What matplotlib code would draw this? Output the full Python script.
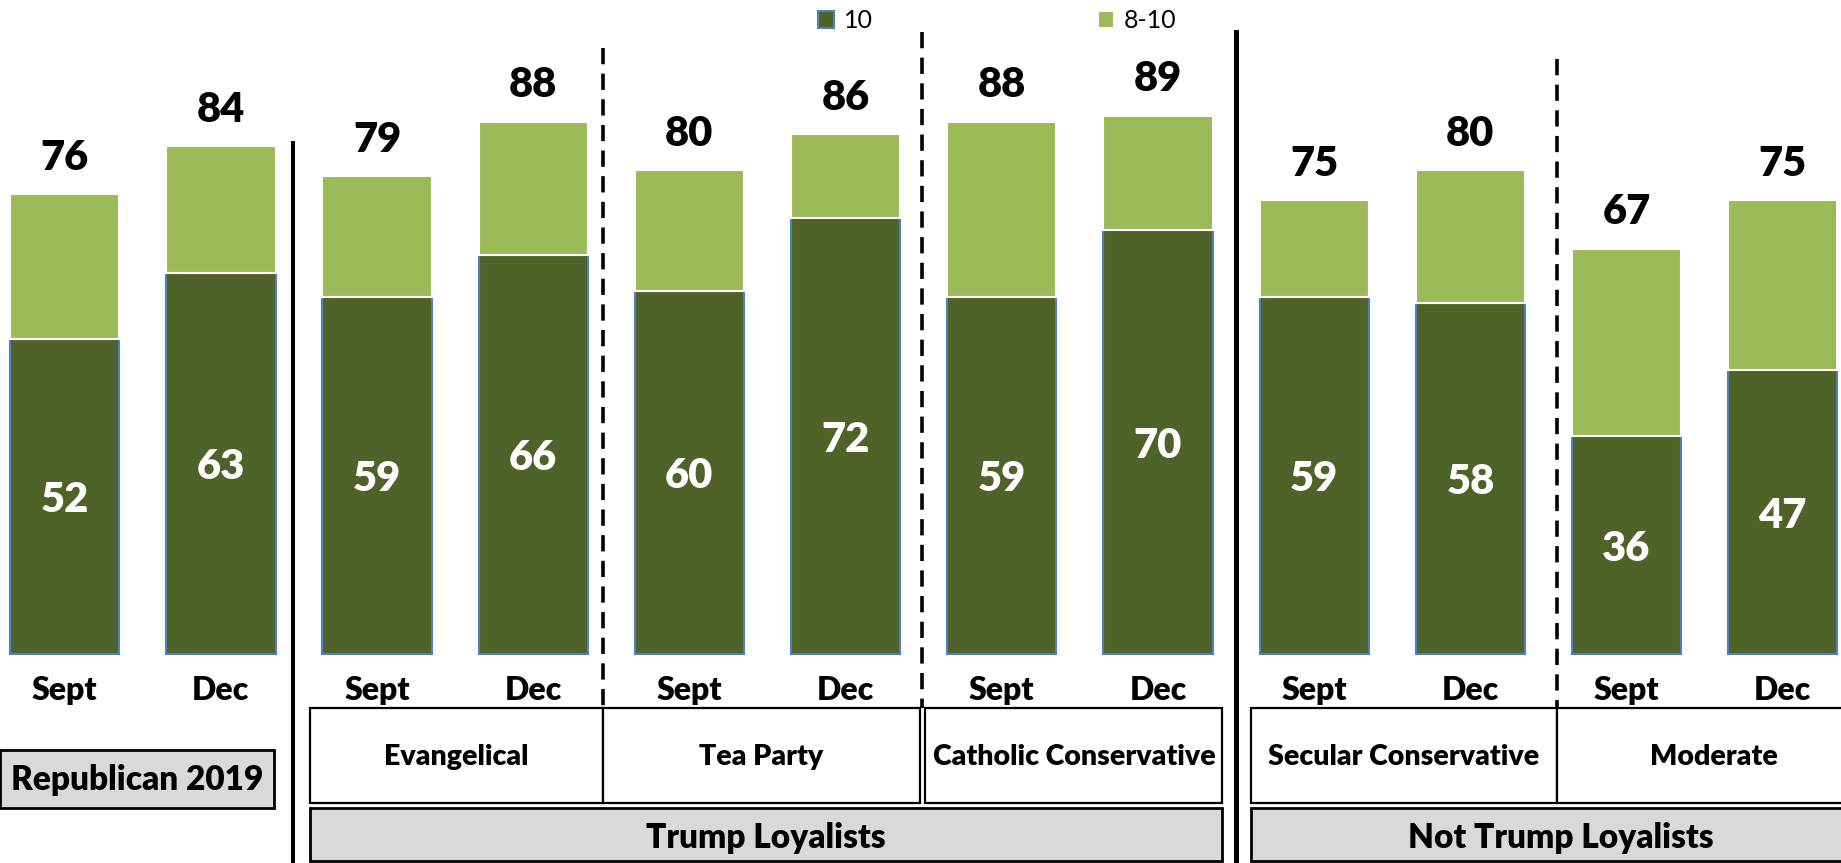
import matplotlib
matplotlib.use('Agg')
import matplotlib.pyplot as plt
from matplotlib.patches import Rectangle
import numpy as np

plt.rcParams['font.family'] = ['Lato', 'DejaVu Sans']

# data
months = ['Sept', 'Dec'] * 6
share_10 = [52, 63, 59, 66, 60, 72, 59, 70, 59, 58, 36, 47]
share_8_10 = [76, 84, 79, 88, 80, 86, 88, 89, 75, 80, 67, 75]
subgroups = ['Evangelical', 'Tea Party', 'Catholic Conservative',
             'Secular Conservative', 'Moderate']
blocs = ['Republican 2019', 'Trump Loyalists', 'Not Trump Loyalists']

DARK = '#4F6228'
LIGHT = '#9BBB59'
EDGE = '#4F81BD'
GREY = '#D9D9D9'
W = 'heavy'

fig = plt.figure(figsize=(18.41, 8.63), dpi=100)
ax = fig.add_axes([0, 0, 1, 1])
ax.set_xlim(-0.414, 11.373)
ax.set_ylim(-34.55, 108.1)
ax.axis('off')

x = np.arange(len(share_10))
ten = np.array(share_10)
total = np.array(share_8_10)

ax.bar(x, ten, width=0.7, color=DARK, edgecolor=EDGE, linewidth=1.5, label='10')
ax.bar(x, total - ten, bottom=ten, width=0.7, color=LIGHT, edgecolor='white',
       linewidth=1.5, label='8-10')

for xi, v10, vt, m in zip(x, ten, total, months):
    ax.text(xi, vt + 4.0, str(vt), ha='center', va='baseline', fontsize=30,
            fontweight=W, color='black')
    ax.text(xi, v10 / 2 - 2.6, str(v10), ha='center', va='baseline', fontsize=30,
            fontweight=W, color='white')
    ax.text(xi, -7.6, m, ha='center', va='baseline', fontsize=23, fontweight=W)

# separators between groups: x, top, bottom, style, width
seps = [(1.463, 84.4, -35, '-', 2.9),
        (3.448, 100.1, -8.9, (0, (4.5, 2.6)), 2.6),
        (5.49, 102.8, -8.9, (0, (4.5, 2.6)), 2.6),
        (7.5, 102.8, -35, '-', 3.6),
        (9.555, 98.3, -8.9, (0, (4.5, 2.6)), 2.6)]
for sx, y0, y1, ls, lw in seps:
    ax.plot([sx, sx], [y0, y1], color='black', ls=ls, lw=lw, clip_on=False)

# subgroup boxes
sub_y = (-24.6, -8.9)
sub_x = [(1.571, 3.448), (3.448, 5.476), (5.51, 7.413), (7.594, 9.555), (9.555, 11.56)]
for (x0, x1), name in zip(sub_x, subgroups):
    ax.add_patch(Rectangle((x0, sub_y[0]), x1 - x0, sub_y[1] - sub_y[0],
                           facecolor='white', edgecolor='black', lw=1.6))
    ax.text((x0 + x1) / 2, -17.0, name, ha='center', va='center',
            fontsize=20.5, fontweight=W)

# bloc boxes
bloc_boxes = [(-0.4136, 1.341, -25.5, -15.9, -20.8),
              (1.571, 7.413, -34.2, -25.5, -30.4),
              (7.594, 11.56, -34.2, -25.5, -30.4)]
for (x0, x1, y0, y1, ty), name in zip(bloc_boxes, blocs):
    ax.add_patch(Rectangle((x0, y0), x1 - x0, y1 - y0, facecolor=GREY,
                           edgecolor='black', lw=2, clip_on=False))
    ax.text((x0 + x1) / 2, ty, name, ha='center', va='center', fontsize=24,
            fontweight=W)

ax.legend(loc='center', bbox_to_anchor=(0.5416, 0.976), ncol=2, frameon=False,
          fontsize=18, handlelength=0.65, handleheight=0.65, handletextpad=0.4,
          columnspacing=9.0, borderpad=0)

plt.savefig('out.png', dpi=100)
